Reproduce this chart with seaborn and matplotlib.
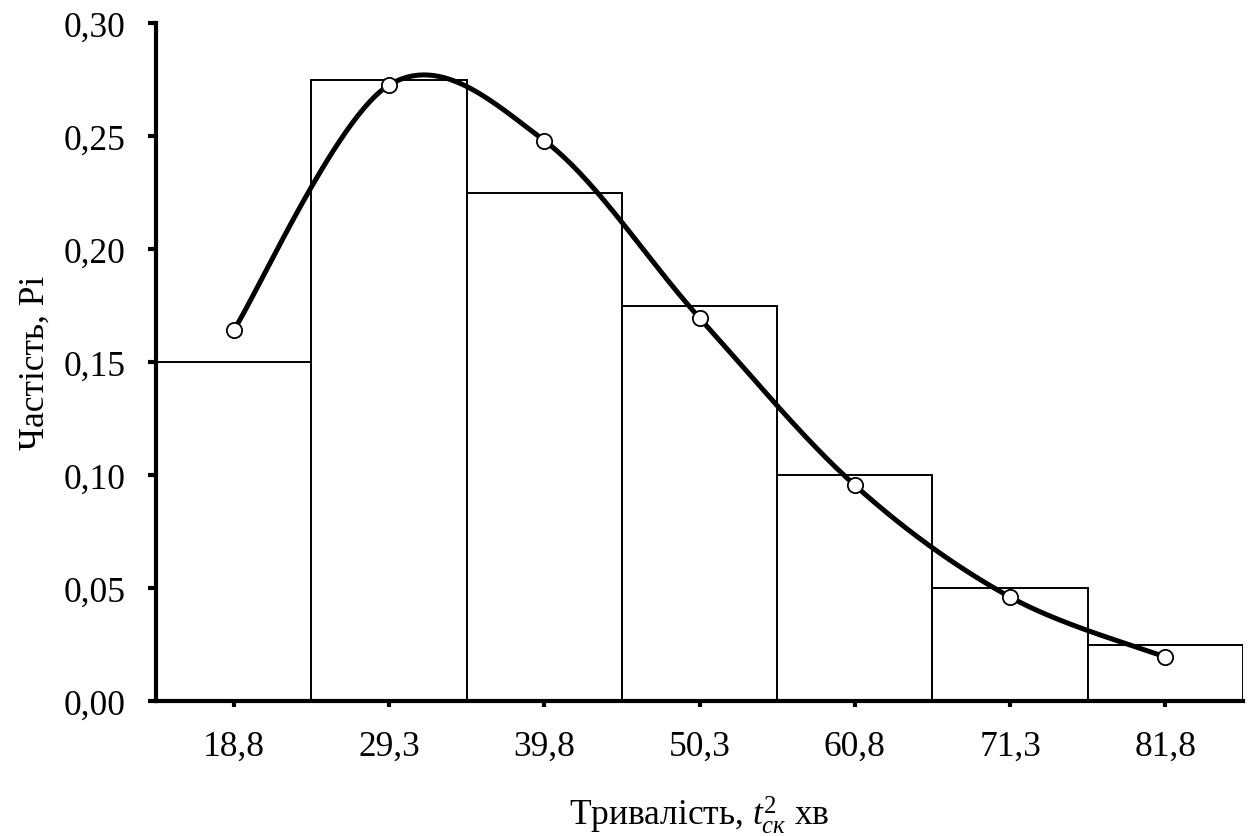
import numpy as np
import pandas as pd
import matplotlib
matplotlib.use("Agg")
import matplotlib.pyplot as plt
import seaborn as sns

# Data
categories = ["18,8", "29,3", "39,8", "50,3", "60,8", "71,3", "81,8"]
bar_freq = [0.150, 0.275, 0.225, 0.175, 0.100, 0.050, 0.025]
curve_freq = [0.164, 0.2725, 0.248, 0.1695, 0.0955, 0.046, 0.0195]
y_ticks = [0.00, 0.05, 0.10, 0.15, 0.20, 0.25, 0.30]

sns.set_style("ticks")
plt.rcParams['font.family'] = ['Liberation Serif', 'DejaVu Serif']
plt.rcParams['mathtext.fontset'] = 'custom'
plt.rcParams['mathtext.rm'] = 'Liberation Serif'
plt.rcParams['mathtext.it'] = 'Liberation Serif:italic'
for k in ['text.color', 'axes.labelcolor', 'xtick.color', 'ytick.color', 'axes.edgecolor']:
    plt.rcParams[k] = 'black'

df = pd.DataFrame({'cat': categories, 'freq': bar_freq})

fig = plt.figure(figsize=(12.51, 8.37), dpi=100)
ax = fig.add_axes([156 / 1251, 1 - 702 / 837, (1243 - 156) / 1251, (702 - 24) / 837])

sns.barplot(data=df, x='cat', y='freq', color='white', edgecolor='black',
            linewidth=1.4, width=1.0, ax=ax, zorder=1)
for p in ax.patches:
    p.set_facecolor('white')

# smoothed line like a spreadsheet "smoothed" series (Bezier through points)
xs = np.arange(len(curve_freq), dtype=float)
ys = np.array(curve_freq)
px = np.concatenate([[xs[0]], xs, [xs[-1]]])
py = np.concatenate([[ys[0]], ys, [ys[-1]]])
cx, cy = [], []
t = np.linspace(0, 1, 60)
for i in range(len(xs) - 1):
    p0 = np.array([px[i + 1], py[i + 1]])
    p3 = np.array([px[i + 2], py[i + 2]])
    p1 = p0 + (np.array([px[i + 2], py[i + 2]]) - np.array([px[i], py[i]])) / 6
    p2 = p3 - (np.array([px[i + 3], py[i + 3]]) - np.array([px[i + 1], py[i + 1]])) / 6
    b = ((1 - t) ** 3)[:, None] * p0 + (3 * (1 - t) ** 2 * t)[:, None] * p1 \
        + (3 * (1 - t) * t ** 2)[:, None] * p2 + (t ** 3)[:, None] * p3
    cx.extend(b[:, 0])
    cy.extend(b[:, 1])
ax.plot(cx, cy, color='black', linewidth=3.6, zorder=3, solid_capstyle='round')
ax.plot(xs, ys, linestyle='none', marker='o', markersize=11, markerfacecolor='white',
        markeredgecolor='black', markeredgewidth=1.3, zorder=4)

ax.set_xlim(-0.5, len(categories) - 0.5)
ax.set_ylim(0, 0.30)
ax.set_yticks(y_ticks)
ax.set_yticklabels([f"{v:.2f}".replace('.', ',') for v in y_ticks])

sns.despine(ax=ax)
ax.spines['left'].set_linewidth(3)
ax.spines['bottom'].set_linewidth(3)
ax.tick_params(axis='y', direction='out', length=6, width=3, pad=16, labelsize=25.5)
ax.tick_params(axis='x', direction='out', length=4, width=3, pad=17, labelsize=25.5)

ax.set_ylabel("Частість, Pi", fontsize=25.5)
ax.set_xlabel(r"Тривалість, $t_{\mathit{ск}}^{2}$ хв", fontsize=25.5)
ax.yaxis.set_label_coords(-0.096, 0.5)
ax.xaxis.set_label_coords(0.5, -0.136)

fig.savefig('out.png', dpi=100)
